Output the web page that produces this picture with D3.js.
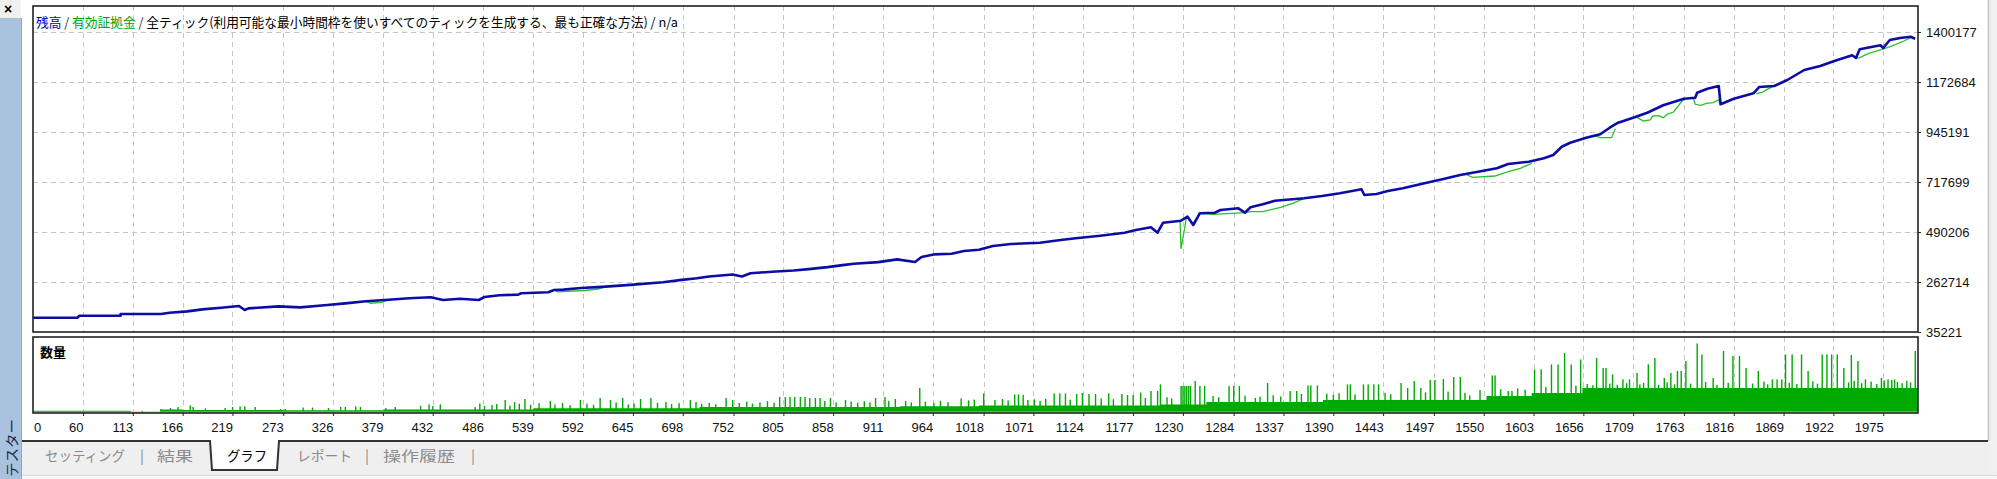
<!DOCTYPE html>
<html><head><meta charset="utf-8">
<script src="https://cdn.jsdelivr.net/npm/d3@7"></script>
<style>body{margin:0;background:#fff;overflow:hidden}svg{display:block}</style>
</head><body><svg id="c" width="1997" height="479"></svg>
<script>
// ---------- data ----------
const xTickLabels = [0,60,113,166,219,273,326,379,432,486,539,592,645,698,752,805,858,911,964,1018,1071,1124,1177,1230,1284,1337,1390,1443,1497,1550,1603,1656,1709,1763,1816,1869,1922,1975];
const yTickLabels = [35221,262714,490206,717699,945191,1172684,1400177];

// balance: [trade, value]
const balance = [[7,100000],[54,100000],[56,108900],[100,108900],[100,117100],[143,117100],[152,122600],[171,128950],[187,138050],[207,145800],[226,153500],[232,135300],[236,142600],[268,151700],[291,147150],[320,158100],[339,165300],[361,174900],[385,182200],[407,188500],[430,193100],[443,180800],[461,186700],[481,180800],[487,194500],[503,202200],[523,205400],[526,211300],[555,215900],[561,226300],[571,228100],[590,235400],[616,241800],[642,249500],[677,261800],[697,272300],[713,280000],[726,287700],[751,296800],[761,287700],[770,302800],[793,309100],[816,315000],[832,321400],[852,330500],[868,339600],[880,345500],[906,353300],[926,365500],[945,353700],[952,376500],[965,388300],[984,391500],[997,403800],[1013,409700],[1028,426500],[1047,435600],[1078,441500],[1100,453800],[1116,461500],[1142,473400],[1168,487000],[1180,499300],[1196,511600],[1203,487000],[1209,532500],[1228,541600],[1235,559800],[1241,522100],[1248,575300],[1264,578000],[1270,590300],[1289,598000],[1296,578000],[1302,602600],[1315,616200],[1328,632600],[1359,643600],[1378,654000],[1397,666300],[1420,684500],[1423,658600],[1436,663100],[1448,676800],[1464,689000],[1487,711800],[1506,730000],[1525,749600],[1544,764600],[1564,780000],[1576,799600],[1598,810100],[1614,825500],[1624,840600],[1633,878300],[1642,896500],[1659,919300],[1674,934700],[1684,964800],[1693,987500],[1709,1010300],[1724,1033000],[1741,1066700],[1763,1096700],[1775,1101300],[1777,1124000],[1788,1142200],[1800,1154500],[1802,1071200],[1816,1096700],[1837,1121300],[1843,1149900],[1859,1154500],[1873,1181800],[1891,1227300],[1908,1245500],[1923,1268200],[1942,1294200],[1946,1281900],[1950,1321500],[1972,1339700],[1975,1327400],[1982,1363800],[1993,1372900],[2004,1378800],[2009,1369700]];

// equity: segments where equity separates from balance
const equityDips = [
  [[361,174900],[366,166000],[378,170000],[385,182200]],
  [[561,226300],[565,218000],[594,224000],[609,232000],[616,241800]],
  [[1227,541000],[1228,412900],[1234,559800]],
  [[1248,575300],[1263,570000],[1296,578000],[1302,582600],[1315,582600],[1334,602600],[1347,620800],[1359,643600]],
  [[1531,753000],[1538,739100],[1562,745000],[1576,764600],[1589,780000],[1601,802800]],
  [[1667,930000],[1674,919300],[1686,919300],[1690,960000]],
  [[1713,1012000],[1720,995300],[1727,1000000],[1730,1018000],[1736,1020000],[1741,1010300],[1746,1028000],[1752,1036200],[1761,1086300],[1765,1098000]],
  [[1773,1100000],[1775,1071300],[1781,1066700],[1787,1075800],[1794,1078500],[1800,1090800],[1802,1071200]],
  [[1840,1120000],[1846,1125000],[1852,1140000],[1857,1150000]],
  [[1946,1281900],[1950,1283300],[1959,1301500],[1972,1318300],[1986,1339700],[1997,1359300],[2004,1374300]]
];

// volume (lots): base level steps [fromTrade, lots]
const volumeBase = [[7,0.6],[111,0],[142,1.2],[166,1.0],[273,0.9],[380,1.2],[539,1.9],[716,2.5],[929,2.9],[1013,3.3],[1206,3.8],[1255,5],[1379,6],[1553,8],[1601,9.5],[1655,12],[2012,12]];
// volume (lots): individual trades standing above the base [trade, lots]
const volumeSpikes = [[123,0.6],[143,1.5],[153,2],[161,2.5],[174,3.3],[177,2.5],[190,1.8],[211,2],[219,2.5],[227,2.8],[232,2.8],[243,2.5],[270,1.5],[275,1.5],[294,2.2],[304,2.2],[321,2],[334,2.5],[339,2.5],[350,2.8],[355,2.5],[382,2],[392,2.5],[419,3],[428,3.8],[432,3],[440,3.8],[477,2.5],[482,4.3],[487,3],
[509,6],[519,5],[530,6.5],[557,5.5],[589,6],[610,7],[621,6],[634,7],[653,6.5],[664,7],[680,5],[706,6],[744,7],[751,6],[801,7.5],[807,7.5],[812,7.5],[817,7.5],[823,7.5],[828,7.5],[833,7],[839,7],[844,7],[855,7],[871,6],[903,7],[913,7.5],[924,6.5],[935,5.5],
[950,12],[965,4.5],[994,6.8],[1018,9.3],[1030,6],[1051,8.8],[1055,8.8],[1060,8.5],[1065,6],[1093,9.3],[1099,9.3],[1105,9.3],[1117,9],[1123,9.5],[1130,9],[1137,9],[1151,9.3],[1165,9],[1171,8.5],[1177,8.5],[1185,9.7],[1196,10.5],[1203,10.5],[1206,13.8],[1228,13],[1230,13],[1232,13],[1234,13],[1236,13],[1238,13],[1243,15.5],[1248,13],[1253,13],[1279,13],[1284,13],[1290,13],[1307,7],[1320,14.5],[1344,10.5],[1351,10.5],[1363,13.3],[1366,13.3],[1373,13.3],[1405,13.8],[1408,13.8],[1422,13.8],[1427,13.8],[1433,13.8],[1438,13.8],[1462,14.5],[1469,12],[1476,15.5],[1483,12],[1493,16],[1498,16],[1507,16.5],[1518,17.5],[1525,17.5],[1535,8.3],[1559,18.3],[1562,18.3],[1576,10.5],[1580,10.5],
[1604,21.3],[1611,21.3],[1622,23.8],[1629,23.8],[1636,29.5],[1643,23.8],[1653,26.3],[1670,27],[1677,22],[1680,22],[1687,18.8],[1698,16.3],[1705,16.3],[1713,19.5],[1725,23.8],[1732,27],[1742,17],[1749,19.5],[1756,20.5],[1760,20.5],[1765,25.5],[1777,34.3],[1782,28.8],[1794,17],[1805,30.5],[1815,28],[1822,28],[1829,22],[1842,20.5],[1857,16.3],[1862,16.3],[1867,16.3],[1871,28.8],[1878,28.8],[1888,28.8],[1895,20.5],[1910,28.8],[1915,28.8],[1920,28.8],[1926,28.8],[1933,22],[1941,28.5],[1948,25.5],[1956,16.3],[1973,17],[1980,16.3],[1987,16.3],[1990,15],[2009,30.5],
[495,3.5],[500,4],[514,3.2],[524,4.2],[536,3.6],[545,4.4],[562,3.8],[570,4.5],[578,3.4],[596,4.2],[603,3.6],[627,4.8],[640,3.8],[646,4.2],[671,4.6],[686,3.9],[694,4.4],[712,5],[718,4.1],[726,4.6],[733,3.9],[758,4.5],[766,5.2],[772,4.2],[780,4.8],[788,5.4],[795,4.6],[849,5.5],[861,4.8],[877,5.2],[884,4.6],[891,5.4],[897,4.8],[917,5.6],[941,4.8],[956,5.2],[972,5.6],[980,4.9],[1002,5.8],[1008,6.2],[1038,6.5],[1044,5.8],[1072,6.4],[1078,5.6],[1084,6.6],[1110,6.2],[1143,6.8],[1156,6.4],[1190,7],[1213,7.4],[1218,6.8],[1262,8],[1268,7.4],[1296,8.2],[1312,7.6],[1326,8.4],[1334,7.8],[1356,9],[1383,9.2],[1390,8.6],[1396,9.4],[1413,8.8],[1445,9.6],[1451,8.9],[1488,9.8],[1512,10.2],[1530,9.6],[1546,11],[1568,11.4],[1586,11.8],[1594,11.2],[1616,12.4],[1648,13.2],[1660,14],[1666,13.4],[1684,14.2],[1692,13.6],[1702,14.4],[1716,13.8],[1720,14.6],[1736,13.6],[1745,14.8],[1753,13.8],[1770,14.2],[1786,15],[1798,13.6],[1810,14.6],[1836,14.2],[1848,15.2],[1852,13.8],[1875,14.6],[1883,14],[1900,15.4],[1905,14.2],[1938,14.8],[1944,15.6],[1952,14.4],[1962,15.2],[1968,14],[1976,15.8],[1984,16],[1995,14.4],[2000,15.6],[2004,14.8]];

const legendParts = [
  {t:"残高", c:"#0000c0"},
  {t:" / ", c:"#333"},
  {t:"有効証拠金", c:"#00a000"},
  {t:" / ", c:"#333"},
  {t:"全ティック(利用可能な最小時間枠を使いすべてのティックを生成する、最も正確な方法) / n/a", c:"#000"}
];
const tabs = [
  {t:"セッティング", x0:45, x1:125, active:false},
  {t:"|", x0:140, x1:144, active:false},
  {t:"結果", x0:157, x1:193, active:false},
  {t:"グラフ", x0:227, x1:267, active:true},
  {t:"レポート", x0:297, x1:352, active:false},
  {t:"|", x0:365, x1:369, active:false},
  {t:"操作履歴", x0:383, x1:455, active:false},
  {t:"|", x0:471, x1:475, active:false}
];

// ---------- drawing ----------
const svg = d3.select("#c");
const L = 33, R = 1918, MT = 6, MB = 332, VT = 337, VB = 413;
const numFont = "'Liberation Sans', Arial, sans-serif";
const jpFont = "'Noto Sans CJK JP', 'Noto Sans CJK SC', sans-serif";

const x = d3.scaleLinear().domain([6.8, 2012]).range([L, R]);
const yMain = d3.scaleLinear().domain([35221, 1518473]).range([MB, MT]);
const yVol = d3.scaleLinear().domain([0, 37]).range([VB - 1, VT + 1]);

// window chrome
svg.append("rect").attr("x",0).attr("y",0).attr("width",1997).attr("height",479).attr("fill","#fff");
svg.append("rect").attr("x",1989).attr("y",0).attr("width",8).attr("height",479).attr("fill","#f0f0f0");
svg.append("line").attr("x1",1988.5).attr("x2",1988.5).attr("y1",0).attr("y2",441).attr("stroke","#c4c4c4").attr("stroke-width",1.5);
svg.append("rect").attr("x",22).attr("y",442).attr("width",1967).attr("height",33).attr("fill","#efefef");
svg.append("rect").attr("x",22).attr("y",475).attr("width",1975).attr("height",4).attr("fill","#f7f7f7");
svg.append("line").attr("x1",22).attr("x2",1997).attr("y1",475.5).attr("y2",475.5).attr("stroke","#d8d8d8");
// left tester strip
svg.append("rect").attr("x",0).attr("y",0).attr("width",21).attr("height",18).attr("fill","#f0f0f0");
svg.append("rect").attr("x",0).attr("y",18).attr("width",21).attr("height",461).attr("fill","#a9c2de");
svg.append("line").attr("x1",21.5).attr("x2",21.5).attr("y1",18).attr("y2",479).attr("stroke","#8ea8c6");
svg.append("text").attr("x",8).attr("y",9).attr("text-anchor","middle").attr("dominant-baseline","central")
  .attr("font-family",numFont).attr("font-weight","bold").attr("font-size",14).text("×");
svg.append("text").attr("transform","translate(11,448) rotate(-90)").attr("text-anchor","middle").attr("dominant-baseline","central")
  .attr("font-family",jpFont).attr("font-size",14).attr("fill","#1c2a44").attr("textLength",58).attr("lengthAdjust","spacingAndGlyphs").text("テスター");

// tabs
svg.append("rect").attr("x",211).attr("y",440).attr("width",67).attr("height",30).attr("fill","#fff");
svg.append("path").attr("d","M22,441H210L212,470H277L279,441H1988").attr("fill","none").attr("stroke","#333").attr("stroke-width",2);
tabs.forEach(tb => {
  svg.append("text").attr("x",tb.x0).attr("y",455).attr("dominant-baseline","central")
    .attr("font-family",jpFont).attr("font-size",14).attr("fill",tb.active?"#000":"#8c8c8c")
    .attr("textLength",tb.x1-tb.x0).attr("lengthAdjust","spacingAndGlyphs").text(tb.t);
});

// clip paths
const defs = svg.append("defs");
defs.append("clipPath").attr("id","cm").append("rect").attr("x",L).attr("y",MT).attr("width",R-L).attr("height",MB-MT);
defs.append("clipPath").attr("id","cv").append("rect").attr("x",L).attr("y",VT).attr("width",R-L).attr("height",VB-VT);

// grid
const gridStyle = s => s.attr("stroke","#c6c6c6").attr("stroke-width",1).attr("stroke-dasharray","5,4");
const gx = xTickLabels.filter(d => d > 0);
svg.append("g").selectAll("line").data(gx).join("line")
  .attr("x1",d=>Math.round(x(d))+0.5).attr("x2",d=>Math.round(x(d))+0.5).attr("y1",MT).attr("y2",MB).call(gridStyle);
svg.append("g").selectAll("line").data(gx).join("line")
  .attr("x1",d=>Math.round(x(d))+0.5).attr("x2",d=>Math.round(x(d))+0.5).attr("y1",VT).attr("y2",VB).call(gridStyle);
svg.append("g").selectAll("line").data(yTickLabels.slice(1)).join("line")
  .attr("x1",L).attr("x2",R).attr("y1",d=>Math.round(yMain(d))+0.5).attr("y2",d=>Math.round(yMain(d))+0.5).call(gridStyle);

// legend
const lg = svg.append("text").attr("x",36).attr("y",21).attr("dominant-baseline","central")
  .attr("font-family",jpFont).attr("font-size",13).attr("textLength",642).attr("lengthAdjust","spacingAndGlyphs");
legendParts.forEach(p => lg.append("tspan").attr("fill",p.c).text(p.t));

// equity + balance
const line = d3.line().x(d=>x(d[0])).y(d=>yMain(d[1]));
const gm = svg.append("g").attr("clip-path","url(#cm)");
gm.selectAll("path.eq").data(equityDips).join("path").attr("class","eq")
  .attr("d",line).attr("fill","none").attr("stroke","#2bbf2b").attr("stroke-width",1.3);
gm.append("path").datum(balance).attr("d",line).attr("fill","none").attr("stroke","#0c0ca6")
  .attr("stroke-width",2.6).attr("stroke-linejoin","round");

// volume
const gv = svg.append("g").attr("clip-path","url(#cv)");
const area = d3.area().curve(d3.curveStepAfter).x(d=>x(d[0])).y0(yVol(0)).y1(d=>yVol(d[1]));
gv.append("path").datum(volumeBase).attr("d",area).attr("fill","#00aa00");
gv.selectAll("rect.sp").data(volumeSpikes).join("rect").attr("class","sp")
  .attr("x",d=>x(d[0])-0.6).attr("width",1.4).attr("y",d=>yVol(d[1])).attr("height",d=>yVol(0)-yVol(d[1]))
  .attr("fill","#00aa00");
svg.append("line").attr("x1",L).attr("x2",R).attr("y1",VB-1).attr("y2",VB-1).attr("stroke","#7ed67e").attr("stroke-width",1);
svg.append("text").attr("x",40).attr("y",351).attr("dominant-baseline","central")
  .attr("font-family",jpFont).attr("font-size",13).attr("font-weight","bold").text("数量");

// panel borders
[[MT,MB],[VT,VB]].forEach(([t,b]) => {
  svg.append("rect").attr("x",L).attr("y",t).attr("width",R-L).attr("height",b-t)
    .attr("fill","none").attr("stroke","#222").attr("stroke-width",1.6);
});

// y axis
const yAxis = d3.axisRight(yMain).tickValues(yTickLabels).tickSize(3).tickPadding(5).tickFormat(d3.format("d"));
const ya = svg.append("g").attr("transform",`translate(${R},0)`).call(yAxis);
ya.select(".domain").remove();
ya.selectAll("line").attr("stroke","#222");
ya.selectAll("text").attr("font-family",numFont).attr("font-size",13).attr("fill","#111").attr("dy","0.35em");

// x axis
const xAxis = d3.axisBottom(x).tickValues(xTickLabels).tickSize(3).tickPadding(0).tickFormat(d3.format("d"));
const xa = svg.append("g").attr("transform",`translate(0,${VB})`).call(xAxis);
xa.select(".domain").remove();
xa.selectAll("line").attr("stroke","#222");
xa.selectAll("text").attr("font-family",numFont).attr("font-size",13).attr("fill","#111")
  .attr("y",14).attr("dy","0.35em").attr("text-anchor","end");
xa.selectAll(".tick").filter(d=>d===0).attr("transform",`translate(${L},0)`)
  .select("text").attr("text-anchor","start").attr("x",1);
xa.selectAll(".tick").filter(d=>d===0).select("line").remove();
</script>
</body></html>
